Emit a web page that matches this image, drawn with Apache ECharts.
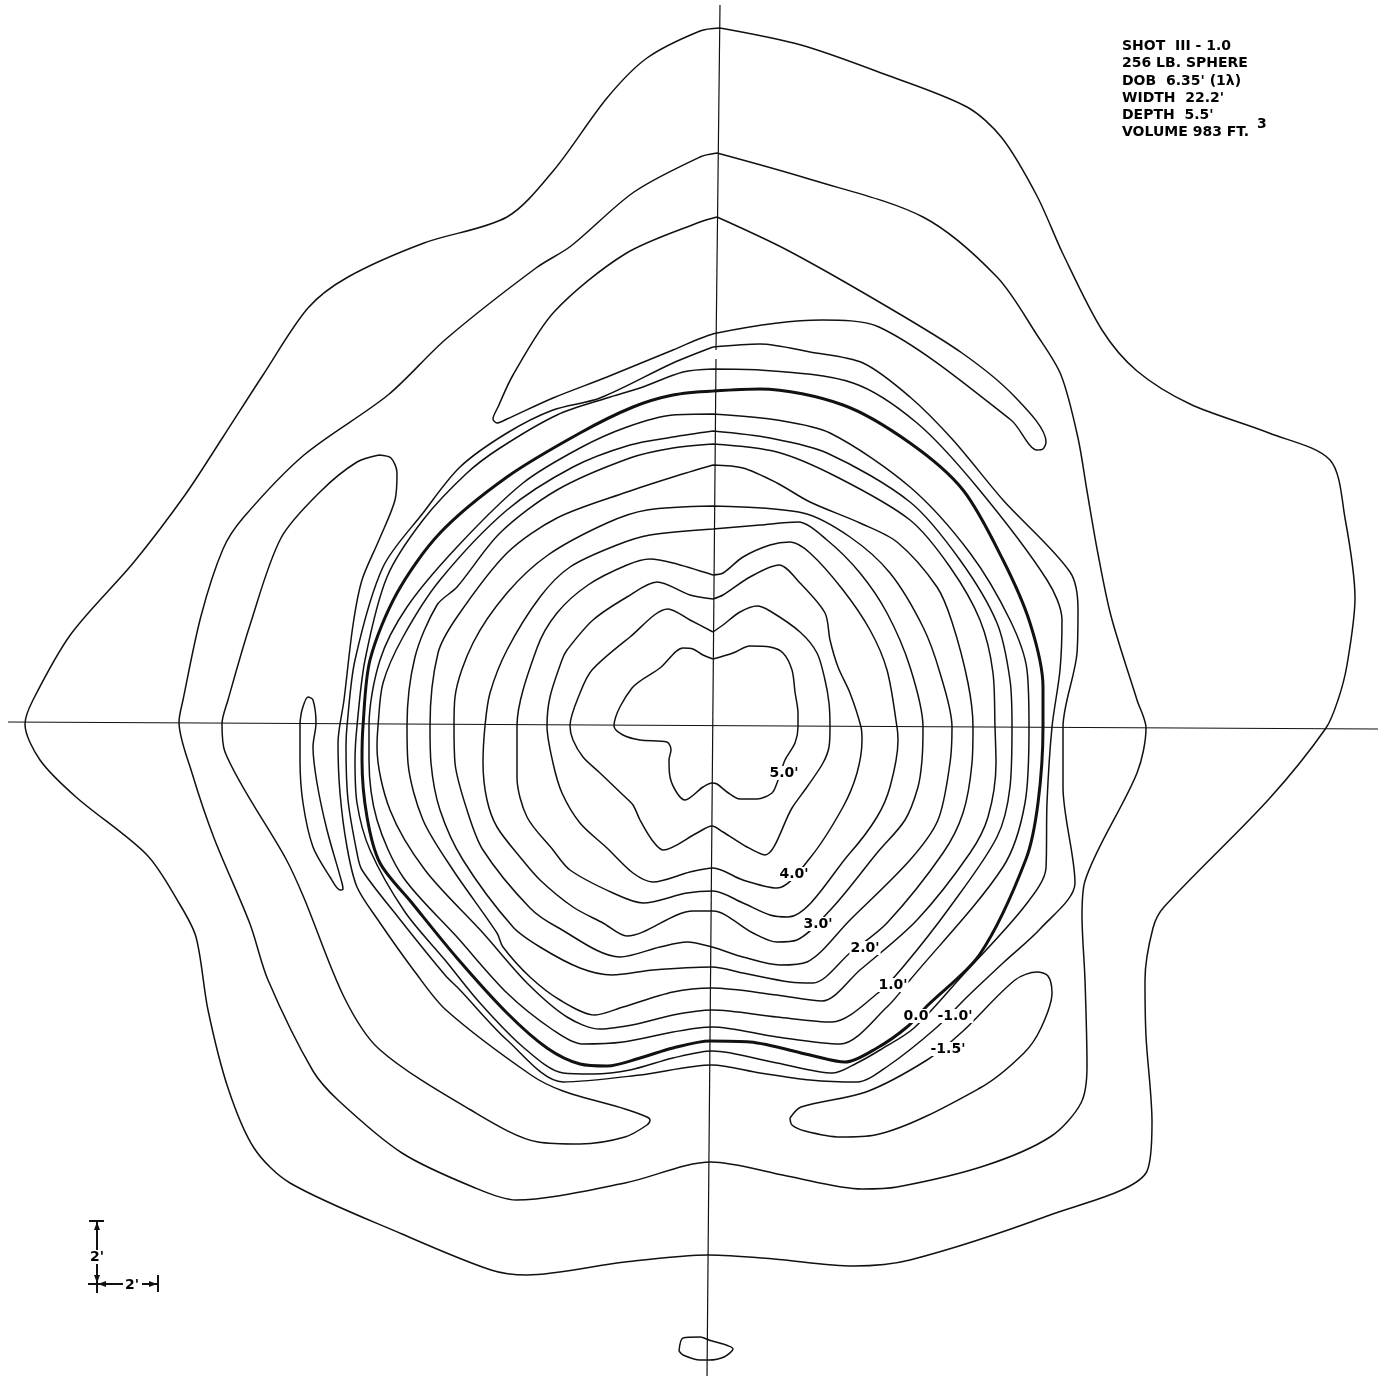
<!DOCTYPE html>
<html><head><meta charset="utf-8">
<style>html,body{margin:0;padding:0;background:#fff}#c{width:1386px;height:1376px}</style>
<script src="https://cdn.jsdelivr.net/npm/echarts@6/dist/echarts.min.js"></script>
</head><body><div id="c"></div>
<script>
// Plan-view survey units: x to the right, y downward.
const outerContour=[[720,28],[801,45],[884,74],[967,107],[1002,138],[1037,196],[1063,254],[1102,330],[1137,371],[1190,404],[1269,433],[1330,460],[1345,518],[1355,598],[1347,665],[1338,700],[1326,728],[1269,799],[1164,907],[1153,928],[1145,980],[1146,1036],[1152,1122],[1146,1173],[1050,1215],[910,1260],[853,1266],[774,1259],[709,1255],[625,1262],[527,1275],[491,1270],[402,1234],[290,1183],[254,1148],[228,1088],[208,1010],[196,937],[179,903],[147,855],[76,797],[40,760],[25,724],[33,700],[71,634],[134,562],[185,495],[223,437],[263,375],[308,308],[348,277],[424,243],[507,217],[554,170],[607,98],[647,58],[700,31],[720,28]];
const secondContour=[[717,153],[809,179],[923,217],[997,277],[1037,335],[1061,375],[1078,438],[1087,491],[1098,554],[1111,616],[1137,700],[1146,728],[1137,773],[1085,881],[1082,916],[1085,980],[1087,1066],[1081,1103],[1050,1137],[984,1166],[897,1187],[862,1189],[787,1176],[711,1162],[625,1183],[516,1200],[473,1187],[402,1153],[339,1101],[313,1071],[268,980],[250,924],[214,838],[192,773],[179,722],[183,700],[201,616],[223,549],[243,518],[304,455],[388,395],[446,339],[536,268],[571,246],[634,192],[700,157],[717,153]];
const lobeTop=[[717,217],[787,250],[886,306],[962,353],[1015,397],[1046,442],[1043,449],[1037,450],[1011,420],[879,327],[822,320],[717,333],[673,350],[607,377],[553,398],[507,419],[497,423],[493,419],[498,407],[513,375],[554,312],[625,254],[700,222],[717,217]];
const lobeLeft=[[379,455],[391,458],[397,473],[395,500],[379,540],[362,580],[353,625],[344,700],[338,743],[340,793],[347,847],[357,887],[378,920],[415,972],[446,1010],[531,1075],[563,1091],[625,1109],[647,1117],[650,1120],[647,1125],[625,1137],[580,1144],[538,1142],[469,1109],[379,1049],[344,997],[304,898],[286,859],[225,752],[222,724],[228,700],[250,625],[281,538],[321,491],[357,462],[379,455]];
const lobeRight=[[790,1118],[801,1107],[866,1092],[927,1060],[962,1032],[1015,980],[1037,972],[1048,976],[1052,993],[1041,1028],[1024,1053],[980,1088],[875,1135],[840,1137],[805,1131],[792,1125],[790,1118]];
const lobeSmall=[[300,723],[302,710],[308,697],[313,700],[316,723],[313,747],[317,783],[327,830],[342,883],[343,889],[340,890],[330,877],[313,847],[303,803],[300,760],[300,723]];
const loopBottom=[[679,1351],[683,1338],[700,1337],[709,1340],[733,1349],[724,1357],[709,1360],[700,1360],[683,1355],[679,1351]];
const contourM10=[[713,347],[760,344],[810,352],[863,363],[910,397],[953,440],[1003,500],[1070,572],[1078,610],[1077,653],[1063,727],[1063,787],[1075,883],[1041,928],[1003,963],[967,997],[936,1028],[888,1066],[857,1082],[810,1080],[760,1073],[712,1065],[640,1075],[563,1082],[507,1040],[460,990],[445,975],[398,917],[362,870],[357,853],[348,800],[346,747],[347,726],[355,660],[383,567],[423,513],[460,467],[507,433],[553,410],[600,398],[673,363],[713,347]];
const contourM05=[[713,369],[760,370],[853,383],[917,423],[977,487],[1047,580],[1062,620],[1060,670],[1052,727],[1047,803],[1046,868],[1024,907],[962,976],[914,1028],[880,1050],[857,1063],[833,1073],[777,1063],[712,1051],[673,1058],[630,1070],[593,1074],[563,1073],[523,1047],[480,1003],[445,960],[405,912],[370,850],[357,803],[355,760],[357,726],[365,660],[387,577],[423,520],[467,473],[500,448],[557,415],[607,398],[640,388],[683,372],[713,369]];
const contour00=[[713,391],[760,389],[843,405],[910,443],[963,490],[1003,560],[1030,623],[1043,687],[1043,727],[1038,803],[1026,859],[980,954],[927,1006],[907,1027],[877,1048],[845,1062],[810,1055],[750,1042],[710,1041],[673,1048],[640,1058],[607,1066],[580,1064],[547,1048],[507,1013],[457,958],[412,903],[380,863],[367,817],[362,760],[363,726],[370,660],[397,593],[440,533],[507,477],[580,433],[633,407],[673,395],[713,391]];
const contour05=[[713,414],[777,420],[830,433],[910,487],[970,553],[1010,620],[1027,670],[1029,727],[1025,803],[1003,867],[910,980],[887,1007],[840,1044],[777,1037],[712,1027],[673,1032],[623,1042],[582,1044],[553,1030],[507,993],[457,937],[403,877],[377,820],[369,760],[369,726],[380,660],[407,607],[457,547],[523,483],[580,448],[627,427],[673,415],[713,414]];
const contour10=[[713,431],[770,438],[827,453],[910,502],[960,560],[997,623],[1010,680],[1012,727],[1010,787],[997,837],[950,907],[903,967],[878,993],[832,1022],[777,1017],[712,1010],[673,1015],[637,1024],[600,1029],[567,1017],[527,983],[483,933],[425,870],[390,810],[377,747],[378,726],[383,683],[403,637],[440,580],[507,510],[573,467],[630,445],[673,437],[713,431]];
const contour15=[[713,444],[777,452],[837,477],[910,520],[950,567],[980,620],[993,673],[995,727],[996,763],[988,817],[970,853],[917,920],[860,970],[822,1001],[777,995],[712,988],[673,992],[623,1007],[595,1015],[560,1000],[530,977],[503,947],[497,933],[453,870],[423,820],[408,763],[407,726],[415,657],[437,605],[457,587],[500,533],[557,490],[630,458],[673,448],[713,444]];
const contour20=[[713,465],[743,468],[777,483],[810,502],[860,523],[897,542],[937,587],[952,622],[968,683],[973,727],[972,763],[963,813],[943,853],[887,923],[850,953],[813,983],[790,982],[743,973],[712,967],[653,970],[612,975],[580,968],[540,947],[513,927],[463,860],[440,810],[431,763],[430,726],[438,653],[457,617],[507,553],[557,518],[627,492],[673,477],[713,465]];
const contour25=[[713,506],[803,513],[850,537],[890,573],[923,627],[940,673],[952,727],[950,763],[938,820],[910,860],[850,920],[807,962],[780,965],[743,957],[712,947],[687,942],[660,947],[620,957],[557,927],[530,908],[483,850],[467,810],[455,763],[454,726],[455,697],[473,643],[507,593],[548,555],[607,523],[647,510],[713,506]];
const contour30=[[713,529],[760,525],[798,522],[827,540],[860,573],[887,613],[910,667],[923,727],[922,760],[918,787],[905,820],[877,853],[833,907],[797,940],[777,942],[753,933],[713,911],[693,911],[627,936],[603,923],[573,907],[540,880],[520,857],[497,827],[487,800],[483,763],[485,726],[490,693],[507,650],[540,597],[570,567],[617,545],[650,535],[713,529]];
const contour35=[[713,575],[723,573],[743,557],[770,545],[790,542],[810,553],[843,590],[870,630],[887,670],[897,727],[898,740],[890,787],[877,817],[850,853],[788,917],[770,915],[743,903],[713,891],[687,893],[643,903],[613,893],[570,870],[553,850],[527,817],[517,777],[517,726],[537,648],[557,613],[588,585],[627,565],[650,559],[673,563],[713,575]];
const contour40=[[713,599],[723,595],[750,577],[779,565],[800,583],[825,613],[830,640],[838,667],[850,693],[861,727],[862,740],[857,773],[843,807],[810,858],[777,888],[743,880],[713,868],[690,872],[653,882],[633,873],[607,848],[580,823],[562,793],[553,763],[547,726],[550,697],[562,660],[567,650],[593,620],[627,597],[657,582],[690,595],[713,599]];
const contour45=[[713,632],[723,625],[740,612],[757,606],[770,611],[800,632],[817,653],[825,680],[829,703],[830,727],[829,747],[823,763],[807,787],[792,808],[765,855],[747,847],[723,832],[712,826],[697,833],[663,850],[652,840],[640,820],[633,805],[623,795],[600,773],[583,757],[573,740],[570,726],[580,693],[592,670],[630,637],[668,609],[690,620],[713,632]];
const contour50=[[713,659],[733,653],[750,646],[770,647],[783,653],[792,670],[795,692],[798,713],[798,727],[795,743],[785,760],[777,783],[772,793],[757,799],[740,799],[727,792],[717,784],[712,783],[703,787],[685,800],[677,793],[670,777],[669,760],[671,750],[667,742],[640,740],[623,735],[614,726],[632,688],[660,668],[683,648],[693,649],[703,655],[713,659]];

const axisNorthA=[[720,5],[716,350]];
const axisNorthB=[[716,359],[707,1376]];
const axisEast=[[8,722],[1378,729]];
const scaleParts=[
  [[89,1221],[104,1221]],[[97,1221],[97,1250]],[[97,1263],[97,1293]],
  [[88,1284],[123,1284]],[[142,1284],[158,1284]],[[158,1275],[158,1292]]
];
const scaleArrows=[[97,1226,0],[97,1279,180],[102,1284,90],[153,1284,270]];
const contourLabels=[["5.0'",784,773],["4.0'",794,874],["3.0'",818,924],["2.0'",865,948],["1.0'",893,985],["0.0",916,1016],["-1.0'",955,1016],["-1.5'",948,1049]];
const scaleLabels=[["2'",97,1257],["2'",132,1285]];
const noteLines=[["SHOT  III - 1.0",1122,46],["256 LB. SPHERE",1122,63],["DOB  6.35' (1λ)",1122,81],["WIDTH  22.2'",1122,98],["DEPTH  5.5'",1122,115],["VOLUME 983 FT.",1122,132],["3",1257,124]];

const thin=[outerContour,secondContour,lobeTop,lobeLeft,lobeRight,lobeSmall,loopBottom,contourM10,contourM05,contour05,contour10,contour15,contour20,contour25,contour30,contour35,contour40,contour45,contour50];
const ink='#111';
const series=[];
thin.forEach(d=>series.push({type:'line',data:d,symbol:'none',smooth:0.3,animation:false,lineStyle:{color:ink,width:1.5}}));
series.push({type:'line',data:contour00,symbol:'none',smooth:0.3,animation:false,lineStyle:{color:ink,width:3}});
[axisNorthA,axisNorthB,axisEast].forEach(d=>series.push({type:'line',data:d,symbol:'none',animation:false,lineStyle:{color:ink,width:1.2}}));
scaleParts.forEach(d=>series.push({type:'line',data:d,symbol:'none',animation:false,lineStyle:{color:ink,width:2}}));
series.push({type:'scatter',animation:false,symbol:'triangle',symbolSize:[6,8],itemStyle:{color:ink,opacity:1},
  data:scaleArrows.map(a=>({value:[a[0],a[1]],symbolRotate:a[2]}))});
const textPoint=(t,bg,size,align)=>({value:[t[1],t[2]],label:{show:true,position:'inside',formatter:()=>t[0],align:align,verticalAlign:'middle',
  fontFamily:'DejaVu Sans',fontWeight:'bold',fontSize:size,color:'#000',backgroundColor:bg||'transparent',padding:bg?[0,1]:0}});
series.push({type:'scatter',z:10,animation:false,symbolSize:2,itemStyle:{color:'transparent',opacity:1},labelLayout:{hideOverlap:false},
  data:[...contourLabels.map(t=>textPoint(t,'#fff',14,'center')),...scaleLabels.map(t=>textPoint(t,'#fff',14,'center')),...noteLines.map(t=>textPoint(t,null,14,'left'))]});

const chart=echarts.init(document.getElementById('c'),null,{renderer:'canvas'});
chart.setOption({animation:false,backgroundColor:'#fff',
  grid:{left:0,right:0,top:0,bottom:0},
  xAxis:{type:'value',min:0,max:1386,show:false},
  yAxis:{type:'value',min:0,max:1376,inverse:true,show:false},
  series:series});
</script></body></html>
